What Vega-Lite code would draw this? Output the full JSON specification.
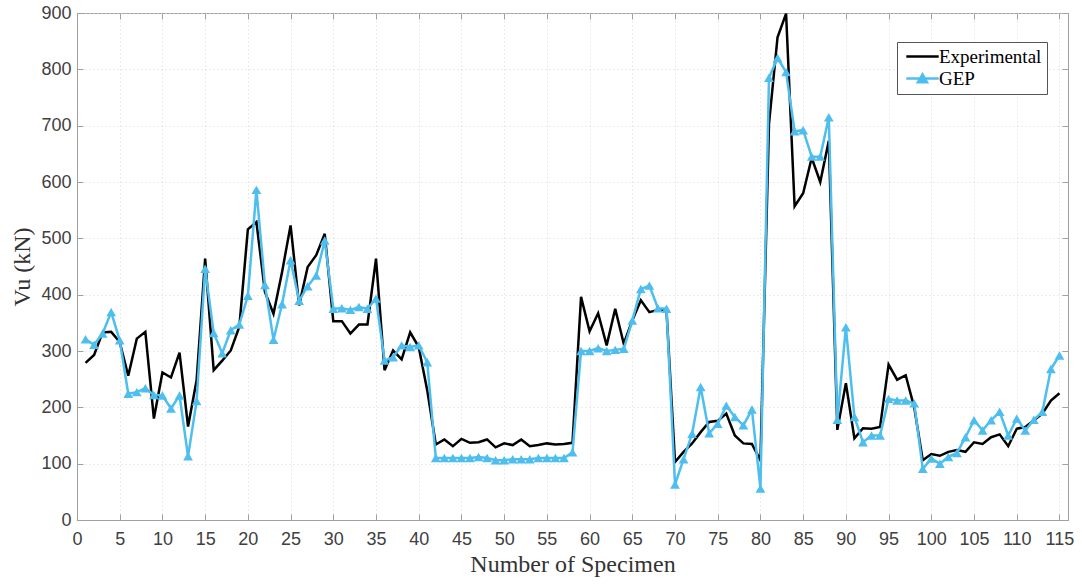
{
  "$schema": "https://vega.github.io/schema/vega-lite/v6.json",
  "autosize": {"type": "none"},
  "width": 991,
  "height": 507,
  "padding": {"left": 77, "top": 13, "right": 14, "bottom": 64},
  "background": "white",
  "config": {
    "view": {"stroke": "#a0a0a0", "strokeWidth": 1},
    "axis": {
      "domainColor": "#a0a0a0",
      "tickColor": "#a0a0a0",
      "gridColor": "#d9d9d9",
      "gridDash": [1, 3],
      "gridWidth": 1,
      "labelFont": "Liberation Sans",
      "labelFontSize": 18,
      "labelColor": "#404040",
      "titleFont": "Liberation Serif",
      "titleFontSize": 24,
      "titleFontWeight": "normal",
      "titleColor": "#333333"
    }
  },
  "data": {
    "values": [
      {"n":1,"Experimental":279,"GEP":321},{"n":2,"Experimental":293,"GEP":311},{"n":3,"Experimental":333,"GEP":331},{"n":4,"Experimental":334,"GEP":369},{"n":5,"Experimental":316,"GEP":319},
      {"n":6,"Experimental":256,"GEP":224},{"n":7,"Experimental":322,"GEP":227},{"n":8,"Experimental":334,"GEP":234},{"n":9,"Experimental":180,"GEP":222},{"n":10,"Experimental":262,"GEP":221},
      {"n":11,"Experimental":253,"GEP":198},{"n":12,"Experimental":297,"GEP":221},{"n":13,"Experimental":166,"GEP":113},{"n":14,"Experimental":248,"GEP":211},{"n":15,"Experimental":464,"GEP":446},
      {"n":16,"Experimental":266,"GEP":332},{"n":17,"Experimental":283,"GEP":296},{"n":18,"Experimental":301,"GEP":337},{"n":19,"Experimental":343,"GEP":347},{"n":20,"Experimental":516,"GEP":398},
      {"n":21,"Experimental":529,"GEP":586},{"n":22,"Experimental":405,"GEP":417},{"n":23,"Experimental":366,"GEP":320},{"n":24,"Experimental":440,"GEP":383},{"n":25,"Experimental":523,"GEP":461},
      {"n":26,"Experimental":381,"GEP":389},{"n":27,"Experimental":449,"GEP":415},{"n":28,"Experimental":470,"GEP":434},{"n":29,"Experimental":508,"GEP":496},{"n":30,"Experimental":353,"GEP":375},
      {"n":31,"Experimental":353,"GEP":376},{"n":32,"Experimental":331,"GEP":373},{"n":33,"Experimental":347,"GEP":378},{"n":34,"Experimental":347,"GEP":375},{"n":35,"Experimental":464,"GEP":393},
      {"n":36,"Experimental":266,"GEP":283},{"n":37,"Experimental":301,"GEP":289},{"n":38,"Experimental":285,"GEP":310},{"n":39,"Experimental":333,"GEP":307},{"n":40,"Experimental":307,"GEP":310},
      {"n":41,"Experimental":230,"GEP":280},{"n":42,"Experimental":134,"GEP":110},{"n":43,"Experimental":143,"GEP":110},{"n":44,"Experimental":131,"GEP":110},{"n":45,"Experimental":144,"GEP":110},
      {"n":46,"Experimental":137,"GEP":110},{"n":47,"Experimental":138,"GEP":112},{"n":48,"Experimental":143,"GEP":110},{"n":49,"Experimental":129,"GEP":106},{"n":50,"Experimental":136,"GEP":106},
      {"n":51,"Experimental":133,"GEP":108},{"n":52,"Experimental":143,"GEP":108},{"n":53,"Experimental":131,"GEP":108},{"n":54,"Experimental":133,"GEP":110},{"n":55,"Experimental":136,"GEP":110},
      {"n":56,"Experimental":134,"GEP":110},{"n":57,"Experimental":135,"GEP":110},{"n":58,"Experimental":137,"GEP":120},{"n":59,"Experimental":396,"GEP":300},{"n":60,"Experimental":335,"GEP":300},
      {"n":61,"Experimental":367,"GEP":305},{"n":62,"Experimental":310,"GEP":300},{"n":63,"Experimental":375,"GEP":302},{"n":64,"Experimental":313,"GEP":304},{"n":65,"Experimental":354,"GEP":354},
      {"n":66,"Experimental":390,"GEP":410},{"n":67,"Experimental":369,"GEP":416},{"n":68,"Experimental":373,"GEP":376},{"n":69,"Experimental":373,"GEP":375},{"n":70,"Experimental":103,"GEP":63},
      {"n":71,"Experimental":121,"GEP":108},{"n":72,"Experimental":136,"GEP":153},{"n":73,"Experimental":156,"GEP":236},{"n":74,"Experimental":174,"GEP":154},{"n":75,"Experimental":176,"GEP":171},
      {"n":76,"Experimental":189,"GEP":203},{"n":77,"Experimental":150,"GEP":183},{"n":78,"Experimental":136,"GEP":168},{"n":79,"Experimental":135,"GEP":196},{"n":80,"Experimental":106,"GEP":56},
      {"n":81,"Experimental":703,"GEP":785},{"n":82,"Experimental":857,"GEP":820},{"n":83,"Experimental":899,"GEP":795},{"n":84,"Experimental":557,"GEP":690},{"n":85,"Experimental":580,"GEP":692},
      {"n":86,"Experimental":643,"GEP":645},{"n":87,"Experimental":600,"GEP":645},{"n":88,"Experimental":673,"GEP":715},{"n":89,"Experimental":160,"GEP":178},{"n":90,"Experimental":243,"GEP":342},
      {"n":91,"Experimental":145,"GEP":183},{"n":92,"Experimental":163,"GEP":138},{"n":93,"Experimental":162,"GEP":150},{"n":94,"Experimental":165,"GEP":150},{"n":95,"Experimental":276,"GEP":215},
      {"n":96,"Experimental":249,"GEP":212},{"n":97,"Experimental":257,"GEP":212},{"n":98,"Experimental":200,"GEP":207},{"n":99,"Experimental":106,"GEP":91},{"n":100,"Experimental":117,"GEP":109},
      {"n":101,"Experimental":114,"GEP":100},{"n":102,"Experimental":121,"GEP":112},{"n":103,"Experimental":124,"GEP":119},{"n":104,"Experimental":121,"GEP":147},{"n":105,"Experimental":138,"GEP":177},
      {"n":106,"Experimental":135,"GEP":159},{"n":107,"Experimental":147,"GEP":177},{"n":108,"Experimental":152,"GEP":192},{"n":109,"Experimental":131,"GEP":150},{"n":110,"Experimental":162,"GEP":180},
      {"n":111,"Experimental":165,"GEP":159},{"n":112,"Experimental":177,"GEP":178},{"n":113,"Experimental":189,"GEP":192},{"n":114,"Experimental":212,"GEP":268},{"n":115,"Experimental":225,"GEP":292}
    ]
  },
  "transform": [{"fold": ["Experimental", "GEP"], "as": ["series", "vu"]}],
  "layer": [
    {
      "mark": {"type": "line", "strokeWidth": 2.5},
      "encoding": {
        "x": {
          "field": "n", "type": "quantitative",
          "scale": {"domain": [0, 116], "nice": false, "zero": false},
          "axis": {
            "title": "Number of Specimen",
            "values": [0,5,10,15,20,25,30,35,40,45,50,55,60,65,70,75,80,85,90,95,100,105,110,115],
            "tickSize": -6, "labelPadding": 16, "titlePadding": 4, "labelFlush": false
          }
        },
        "y": {
          "field": "vu", "type": "quantitative",
          "scale": {"domain": [0, 900], "nice": false},
          "axis": {
            "title": "Vu (kN)",
            "values": [0,100,200,300,400,500,600,700,800,900],
            "tickSize": -6, "labelPadding": 12, "titlePadding": 6
          }
        },
        "color": {
          "field": "series", "type": "nominal",
          "scale": {"domain": ["Experimental", "GEP"], "range": ["#000000", "#4DBEEE"]},
          "legend": {
            "title": null,
            "orient": "none",
            "legendX": 820,
            "legendY": 29,
            "direction": "vertical",
            "strokeColor": "#555555",
            "fillColor": "white",
            "padding": 5,
            "rowPadding": 2,
            "labelFont": "Liberation Serif",
            "labelFontSize": 19,
            "labelColor": "#000000",
            "labelOffset": 7,
            "symbolSize": 144,
            "symbolOffset": 11,
            "symbolStrokeWidth": 2.5,
            "encode": {
              "symbols": {
                "update": {
                  "shape": {"signal": "datum.value === 'GEP' ? 'M-2.7,0L2.7,0M-0.75,0.62L0,-0.68L0.75,0.62Z' : 'M-2.7,0L2.7,0'"},
                  "fill": {"signal": "datum.value === 'GEP' ? '#4DBEEE' : 'transparent'"}
                }
              }
            }
          }
        },
        "order": {"field": "n", "type": "quantitative"}
      }
    },
    {
      "transform": [{"filter": "datum.series === 'GEP'"}],
      "mark": {"type": "point", "shape": "triangle-up", "filled": true, "size": 95, "color": "#4DBEEE", "opacity": 1},
      "encoding": {
        "x": {
          "field": "n", "type": "quantitative",
          "axis": {
            "orient": "top", "title": null, "labels": false, "grid": false, "domain": false,
            "values": [0,5,10,15,20,25,30,35,40,45,50,55,60,65,70,75,80,85,90,95,100,105,110,115],
            "tickSize": -6
          }
        },
        "y": {
          "field": "vu", "type": "quantitative",
          "axis": {
            "orient": "right", "title": null, "labels": false, "grid": false, "domain": false,
            "values": [0,100,200,300,400,500,600,700,800,900],
            "tickSize": -6
          }
        }
      }
    }
  ],
  "resolve": {"axis": {"x": "independent", "y": "independent"}}
}
